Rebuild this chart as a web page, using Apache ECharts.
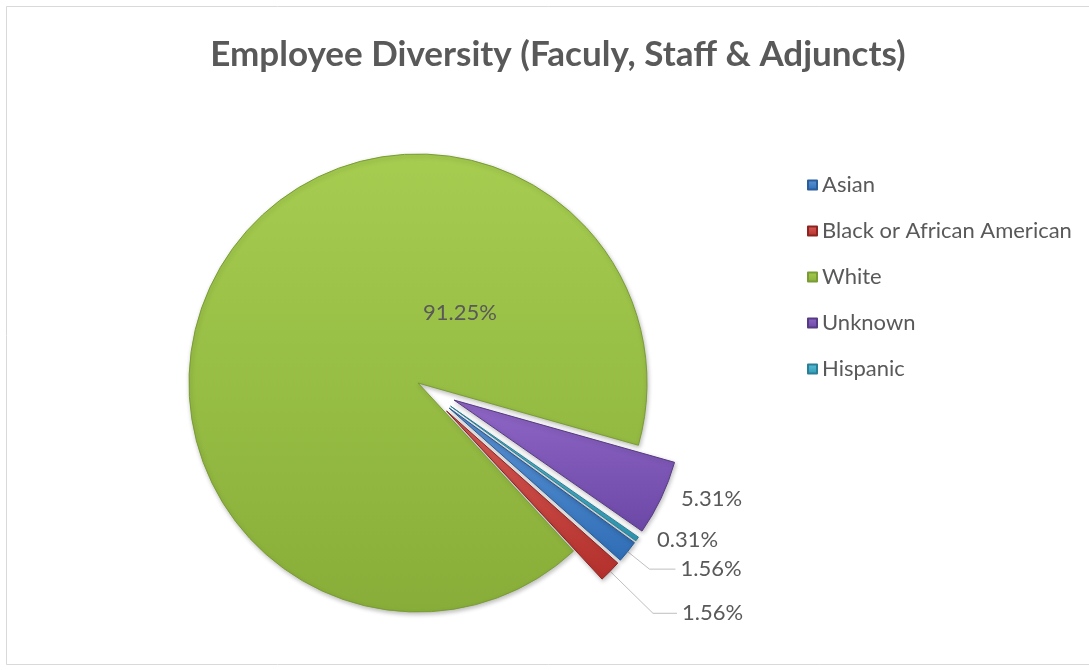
<!DOCTYPE html>
<html>
<head>
<meta charset="utf-8">
<script src="https://cdn.jsdelivr.net/npm/echarts@6/dist/echarts.min.js"></script>
<style>
html,body{margin:0;padding:0;background:#fff;}
#chart{width:1089px;height:670px;}
</style>
</head>
<body>
<div id="chart"></div>
<script>
const titleText = 'Employee Diversity (Faculy, Staff & Adjuncts)';
const categories = ['Asian', 'Black or African American', 'White', 'Unknown', 'Hispanic'];
const values = [1.56, 1.56, 91.25, 5.31, 0.31];
const labels = ['1.56%', '1.56%', '91.25%', '5.31%', '0.31%'];
const exploded = [true, true, false, true, true];
const colorsLight = ['#5d96d8', '#d95b57', '#a6cd50', '#8f66c6', '#5cc0d8'];
const colorsDark  = ['#2f6db5', '#b3302c', '#88ae39', '#6c48a6', '#2f98b3'];
const borders     = ['#2a5d9a', '#8e2421', '#7a9c35', '#563b84', '#2a7f96'];

const FONT = 'Lato, "Open Sans", sans-serif';
const CX = 418, CY = 383, R = 229;
// leader line styling per slice: [visible, length, length2]
const leader = [[true, 28, 26], [true, 60, 24], [false, 0, 0], [false, 1, 14], [false, 1, 14]];

function grad(i){
  return new echarts.graphic.LinearGradient(0,0,0,1,[
    {offset:0,color:colorsLight[i]},{offset:1,color:colorsDark[i]}]);
}

const data = categories.map((c,i)=>({
  name:c, value:values[i], selected:exploded[i],
  itemStyle:{color:grad(i), borderColor:borders[i], borderWidth:1},
  label:{formatter:labels[i]},
  labelLine:{show:leader[i][0], length:leader[i][1], length2:leader[i][2]}
}));

const chart = echarts.init(document.getElementById('chart'));
chart.setOption({
  backgroundColor:'#fff',
  animation:false,
  title:{text:titleText,left:553,top:32,textAlign:'center',
    textStyle:{fontFamily:FONT,fontSize:35,fontWeight:'bold',color:'#595959'}},
  legend:{orient:'vertical',left:807,top:174,padding:0,itemGap:24,itemWidth:9,itemHeight:9,icon:'rect',
    selectedMode:false,
    textStyle:{fontFamily:FONT,fontSize:22,color:'#595959'},
    data:categories},
  graphic:[{type:'rect',shape:{x:6.5,y:6.5,width:1100,height:658},
    style:{fill:'none',stroke:'#d9d9d9',lineWidth:1},silent:true}],
  series:[{
    type:'pie',
    center:[CX,CY],
    radius:R,
    startAngle:-36,
    clockwise:true,
    selectedMode:'multiple',
    selectedOffset:40,
    avoidLabelOverlap:false,
    itemStyle:{shadowBlur:4,shadowColor:'rgba(0,0,0,0.25)',shadowOffsetX:1,shadowOffsetY:2},
    label:{show:true,position:'outside',fontFamily:FONT,fontSize:22,color:'#595959'},
    labelLine:{lineStyle:{color:'#bfbfbf',width:1}},
    emphasis:{disabled:true},
    data:data,
    labelLayout:function(p){
      if(p.dataIndex===2){
        return {x:CX+42,y:CY-70,align:'center',verticalAlign:'middle'};
      }
      return {};
    }
  }]
});
</script>
</body>
</html>
